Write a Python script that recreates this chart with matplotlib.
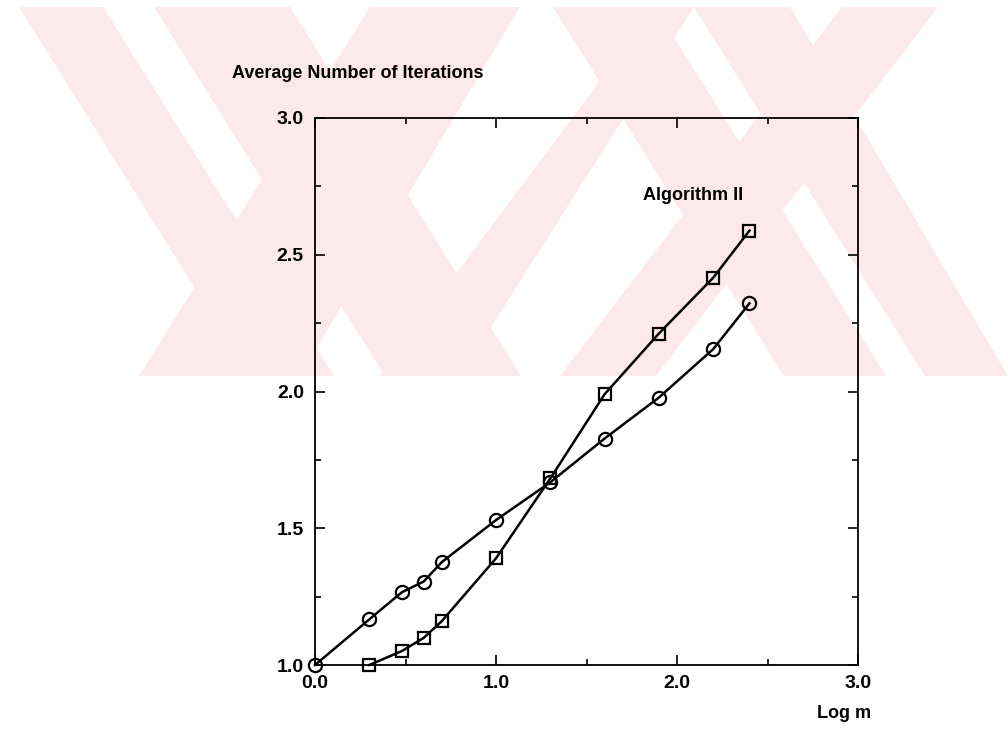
import matplotlib
matplotlib.use('Agg')
import matplotlib.pyplot as plt
from matplotlib.patches import Polygon
from matplotlib.ticker import MultipleLocator

# log m values and average iteration counts
x_circ = [0.0, 0.30, 0.48, 0.60, 0.70, 1.00, 1.30, 1.60, 1.90, 2.20, 2.40]
y_circ = [1.0, 1.167, 1.266, 1.305, 1.376, 1.53, 1.668, 1.828, 1.978, 2.155, 2.322]
x_sq = [0.30, 0.48, 0.60, 0.70, 1.00, 1.30, 1.60, 1.90, 2.20, 2.40]
y_sq = [1.0, 1.051, 1.099, 1.16, 1.39, 1.682, 1.99, 2.212, 2.416, 2.588]

x_ticks = [0.0, 1.0, 2.0, 3.0]
y_ticks = [1.0, 1.5, 2.0, 2.5, 3.0]

plt.rcParams['font.family'] = ['Liberation Sans', 'DejaVu Sans']
plt.rcParams['font.weight'] = 'bold'

W, H = 1008, 730
fig = plt.figure(figsize=(W / 100, H / 100), dpi=100)

# pale watermark in the background (pixel coords -> figure fraction)
pink = '#fde8ec'
def band(top_l, top_r, bot_l, bot_r, y0=7, y1=376):
    pts = [(top_l, y0), (top_r, y0), (bot_r, y1), (bot_l, y1)]
    pts = [(px / W, 1 - py / H) for px, py in pts]
    fig.add_artist(Polygon(pts, closed=True, fc=pink, ec='none',
                           transform=fig.transFigure, zorder=0))

band(19, 103, 250, 334)
band(154, 290, 385, 521)
band(370, 418, 139, 187)
band(418, 520, 174, 300)
band(553, 655, 784, 886)
band(694, 790, 925, 1008)
band(842, 938, 560, 656)
band(655, 694, 380, 460)

ax = fig.add_axes([315 / W, 1 - 665 / H, (858 - 315) / W, (665 - 118) / H])
ax.patch.set_alpha(0)

ax.plot(x_circ, y_circ, color='black', lw=1.8, marker='o', ms=9.5,
        mfc='none', mec='black', mew=1.6, clip_on=False, zorder=3)
ax.plot(x_sq, y_sq, color='black', lw=1.8, marker='s', ms=8.5,
        mfc='none', mec='black', mew=1.6, clip_on=False, zorder=3)

ax.set_xlim(0, 3)
ax.set_ylim(1, 3)
ax.set_xticks(x_ticks)
ax.set_yticks(y_ticks)
ax.set_xticklabels(['%.1f' % v for v in x_ticks])
ax.set_yticklabels(['%.1f' % v for v in y_ticks])
ax.xaxis.set_minor_locator(MultipleLocator(0.5))
ax.yaxis.set_minor_locator(MultipleLocator(0.25))
ax.tick_params(which='both', direction='in', top=True, right=True,
               labelsize=14, width=1.2)
ax.tick_params(which='major', length=7)
ax.tick_params(which='minor', length=4)
ax.tick_params(axis='x', pad=7)
ax.tick_params(axis='y', pad=8)
for lab in ax.get_xticklabels() + ax.get_yticklabels():
    lab.set_fontweight('bold')
for s in ax.spines.values():
    s.set_linewidth(1.3)

ax.text(1.81, 2.715, 'Algorithm II', fontsize=13, fontweight='bold',
        va='center', ha='left')
fig.text(232 / W, 1 - 73 / H, 'Average Number of Iterations', fontsize=13,
         fontweight='bold', va='center', ha='left')
fig.text(817 / W, 1 - 713 / H, 'Log m', fontsize=13, fontweight='bold',
         va='center', ha='left')

fig.savefig('out.png', dpi=100)
